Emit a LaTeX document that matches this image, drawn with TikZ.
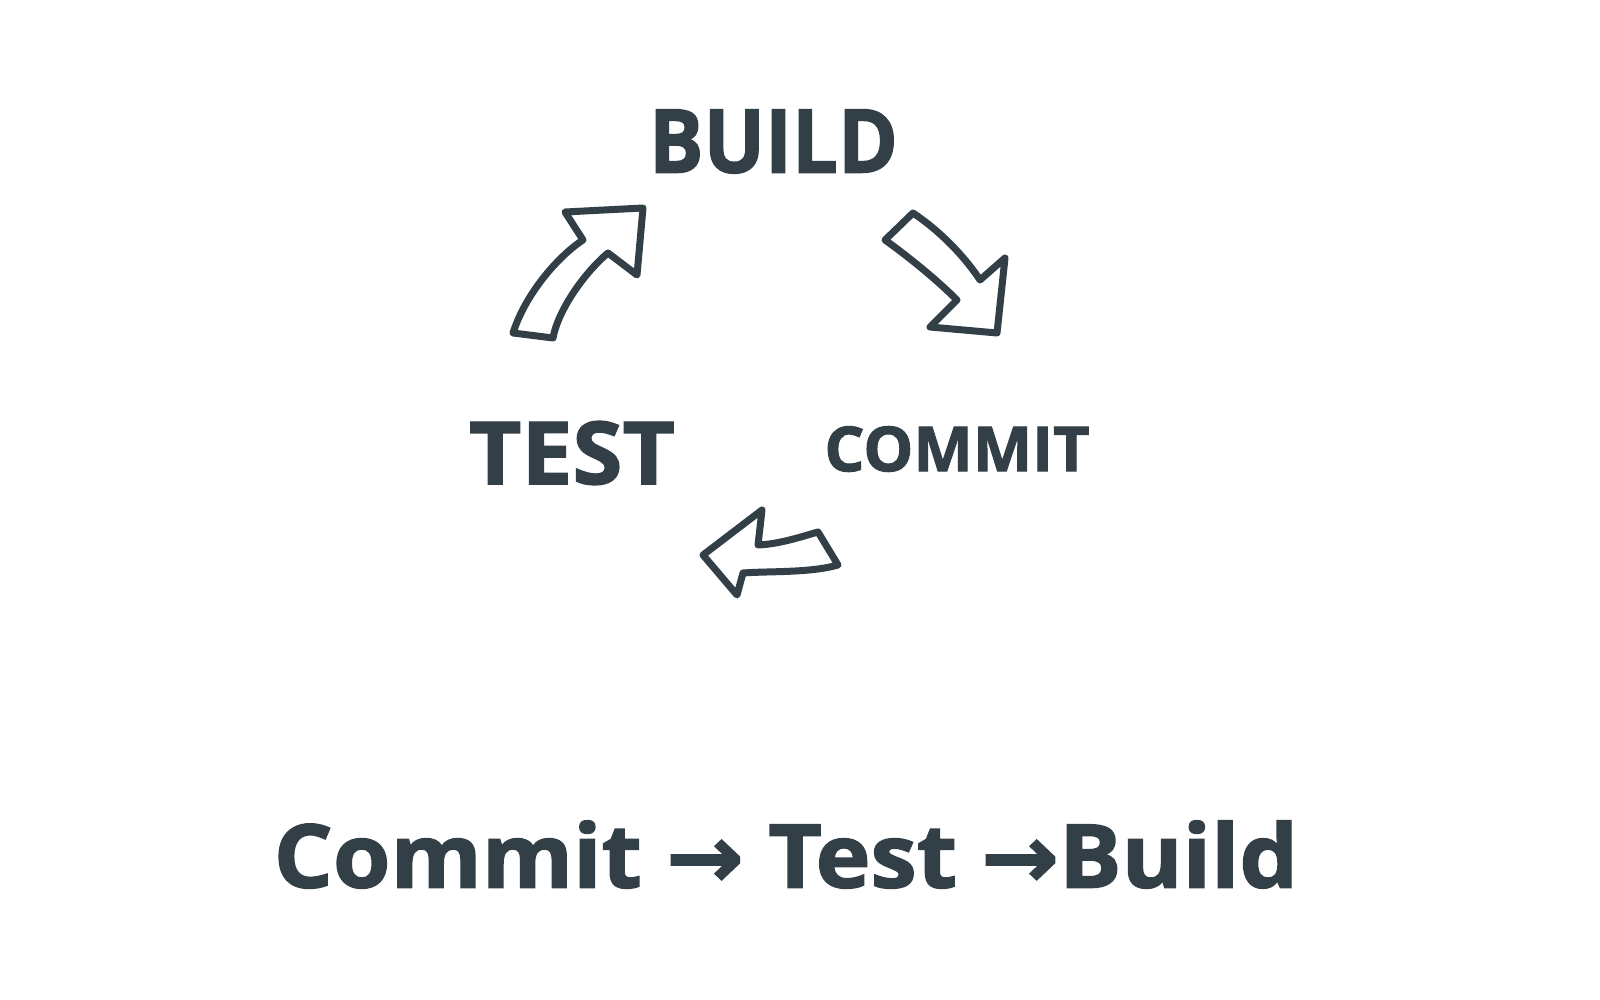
\documentclass[tikz,border=0pt]{standalone}
\usepackage{fontspec}
\usepackage{graphicx}
\setmainfont{Open Sans}
\newfontfamily\symfont{DejaVu Sans}
\definecolor{ink}{HTML}{333F47}
\newcommand{\heavytext}{\bfseries\addfontfeature{FakeBold=1.6}}
\begin{document}
\begin{tikzpicture}[x=1pt,y=-1pt,
  lbl/.style={inner sep=0pt, outer sep=0pt, anchor=center, text=ink, font=\heavytext},
  sketch/.style={draw=ink, line width=7pt, line join=round, line cap=round, fill=white}]
\path[fill=white, use as bounding box] (0,0) rectangle (1600,1000);

\node[lbl] (build)  at (773.5,141.5) {\resizebox{249pt}{63pt}{BUILD}};
\node[lbl] (test)   at (572,453)     {\resizebox{206pt}{63pt}{TEST}};
\node[lbl] (commit) at (957,449)     {\resizebox{265pt}{45pt}{COMMIT}};
\node[lbl] (flow)   at (786,854.5)   {\resizebox{1024pt}{67pt}{Commit {\symfont\bfseries\addfontfeature{FakeBold=1.6}→} Test {\symfont\bfseries\addfontfeature{FakeBold=1.6}→}Build}};

% arrow TEST -> BUILD
\draw[sketch] (513,333) -- (553,338) .. controls (558,310) and (585,272) .. (608,253)
  -- (637,275) -- (643,208) -- (565,212) -- (583,240)
  .. controls (557,257) and (525,295) .. (513,333) -- cycle;
% arrow BUILD -> COMMIT
\draw[sketch] (885,240) -- (913,213) .. controls (943,233) and (967,260) .. (980,280)
  -- (1005,258) -- (997,333) -- (930,327) -- (957,300)
  .. controls (940,283) and (913,260) .. (885,240) -- cycle;
% arrow COMMIT -> TEST
\draw[sketch] (703,555) -- (762,510) -- (758,545)
  .. controls (780,544) and (800,537) .. (818,532) -- (838,565)
  .. controls (810,573) and (770,571) .. (743,573) -- (737,595) -- cycle;
\end{tikzpicture}
\end{document}
